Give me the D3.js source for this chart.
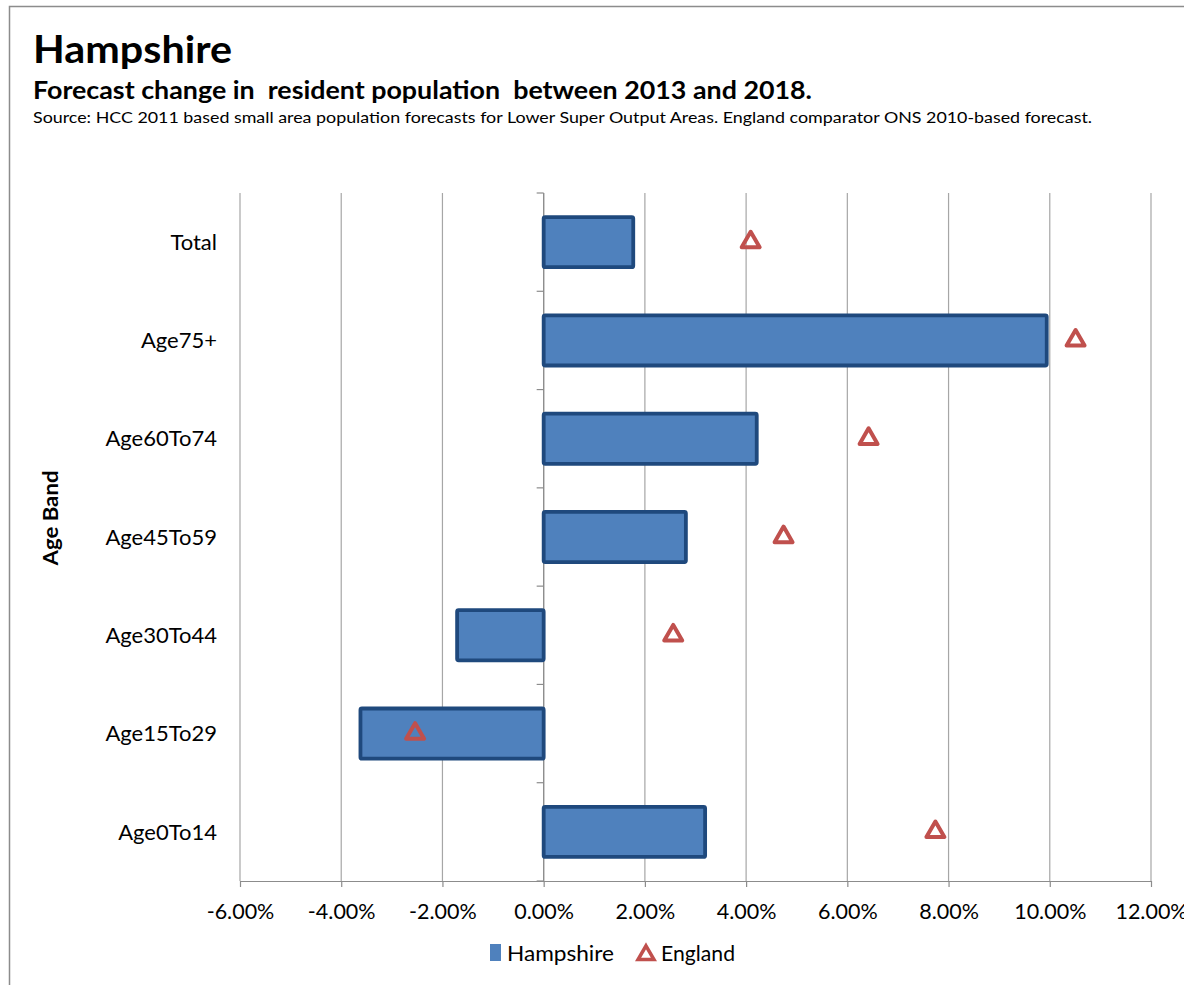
<!DOCTYPE html>
<html>
<head>
  <title></title>
  <script src="https://d3js.org/d3.v7.min.js"></script>
  <style>
    body { margin: 0; background: #fff; }
    text { font-family: Lato, "Open Sans", sans-serif; fill: #000; }
  </style>
</head>
<body>
<script type="text/javascript">
// data
var categories = ["Total", "Age75+", "Age60To74", "Age45To59", "Age30To44", "Age15To29", "Age0To14"];
var hampshire = [0.0177, 0.0994, 0.0421, 0.0281, -0.0171, -0.0362, 0.0319];
var england = [0.0409, 0.1051, 0.0642, 0.0474, 0.0256, -0.0254, 0.0774];
var xTicks = [-0.06, -0.04, -0.02, 0, 0.02, 0.04, 0.06, 0.08, 0.10, 0.12];

var W = 1184, H = 985;
var plot = {left: 240, right: 1151, top: 193, bottom: 881};

var svg = d3.select("body").append("svg")
    .attr("width", W)
    .attr("height", H);

// outer frame
svg.append("rect")
   .attr("x", 9.5).attr("y", 6.5)
   .attr("width", W + 20).attr("height", H + 20)
   .attr("fill", "none").attr("stroke", "#8c8c8c").attr("stroke-width", 1.5);

// titles
svg.append("text").attr("x", 33).attr("y", 63)
   .attr("textLength", 199).attr("lengthAdjust", "spacingAndGlyphs")
   .style("font-size", "38px").style("font-weight", "bold").text("Hampshire");
svg.append("text").attr("x", 33).attr("y", 99)
   .attr("textLength", 779).attr("lengthAdjust", "spacingAndGlyphs")
   .style("font-size", "24px").style("font-weight", "bold").style("white-space", "pre")
   .text("Forecast change in  resident population  between 2013 and 2018.");
svg.append("text").attr("x", 33).attr("y", 123)
   .attr("textLength", 1059).attr("lengthAdjust", "spacingAndGlyphs")
   .style("font-size", "16px")
   .text("Source: HCC 2011 based small area population forecasts for Lower Super Output Areas. England comparator ONS 2010-based forecast.");

var x = d3.scaleLinear().domain([-0.06, 0.12]).range([plot.left, plot.right]);
var y = d3.scaleBand().domain(categories).range([plot.top, plot.bottom]).paddingInner(0.49).paddingOuter(0.245);

// gridlines
svg.append("g").selectAll("line")
   .data(xTicks).enter().append("line")
   .attr("x1", function(d){ return x(d); })
   .attr("x2", function(d){ return x(d); })
   .attr("y1", plot.top).attr("y2", plot.bottom)
   .attr("stroke", "#a6a6a6").attr("stroke-width", 1.2);

// x axis
var xAxis = d3.axisBottom(x).tickValues(xTicks).tickSize(6).tickSizeOuter(0)
    .tickFormat(function(d){ return (d * 100).toFixed(2) + "%"; });
var gx = svg.append("g")
    .attr("transform", "translate(0," + plot.bottom + ")")
    .call(xAxis);
gx.select(".domain").attr("stroke", "#8c8c8c").attr("stroke-width", 1.2);
gx.selectAll(".tick line").attr("stroke", "#8c8c8c").attr("stroke-width", 1.2);
gx.selectAll(".tick text").attr("dy", 0).attr("y", 38)
   .style("font-size", "21.5px").style("font-family", "Lato, sans-serif").attr("fill", "#000");

// y axis at zero, with ticks at category boundaries
var bandStep = (plot.bottom - plot.top) / categories.length;
svg.append("line")
   .attr("x1", x(0)).attr("x2", x(0))
   .attr("y1", plot.top).attr("y2", plot.bottom)
   .attr("stroke", "#8c8c8c").attr("stroke-width", 1.2);
svg.append("g").selectAll("line")
   .data(d3.range(categories.length + 1)).enter().append("line")
   .attr("x1", x(0) - 7).attr("x2", x(0))
   .attr("y1", function(i){ return plot.top + i * bandStep; })
   .attr("y2", function(i){ return plot.top + i * bandStep; })
   .attr("stroke", "#8c8c8c").attr("stroke-width", 1.2);

// category labels
svg.append("g").selectAll("text")
   .data(categories).enter().append("text")
   .attr("x", 217)
   .attr("y", function(d){ return y(d) + y.bandwidth() / 2; })
   .attr("dy", "0.35em")
   .attr("text-anchor", "end")
   .style("font-size", "22px")
   .text(function(d){ return d; });

svg.append("text")
   .attr("transform", "translate(58,518) rotate(-90)")
   .attr("text-anchor", "middle")
   .attr("textLength", 95).attr("lengthAdjust", "spacingAndGlyphs")
   .style("font-size", "21px").style("font-weight", "bold")
   .text("Age Band");

// bars
svg.append("g").selectAll("rect")
   .data(hampshire).enter().append("rect")
   .attr("x", function(d){ return x(Math.min(0, d)); })
   .attr("y", function(d, i){ return y(categories[i]); })
   .attr("width", function(d){ return Math.abs(x(d) - x(0)); })
   .attr("height", y.bandwidth())
   .attr("rx", 1.5)
   .attr("fill", "#4f81bd")
   .attr("stroke", "#1f497d").attr("stroke-width", 3.8);

// england markers
var tri = d3.symbol().type(d3.symbolTriangle).size(140);
svg.append("g").selectAll("path")
   .data(england).enter().append("path")
   .attr("d", tri)
   .attr("transform", function(d, i){ return "translate(" + x(d) + "," + (y(categories[i]) + y.bandwidth() / 2) + ")"; })
   .attr("fill", "none")
   .attr("stroke", "#c0504d").attr("stroke-width", 4)
   .attr("stroke-linejoin", "round");

// legend
var lg = svg.append("g");
lg.append("rect").attr("x", 490).attr("y", 944).attr("width", 11).attr("height", 17).attr("fill", "#4f81bd");
lg.append("text").attr("x", 507).attr("y", 961).attr("textLength", 107).attr("lengthAdjust", "spacingAndGlyphs")
  .style("font-size", "22px").text("Hampshire");
lg.append("path").attr("d", d3.symbol().type(d3.symbolTriangle).size(110)())
  .attr("transform", "translate(646,955)")
  .attr("fill", "none").attr("stroke", "#c0504d").attr("stroke-width", 3.5);
lg.append("text").attr("x", 661).attr("y", 961).attr("textLength", 74).attr("lengthAdjust", "spacingAndGlyphs")
  .style("font-size", "22px").text("England");
</script>
</body>
</html>
